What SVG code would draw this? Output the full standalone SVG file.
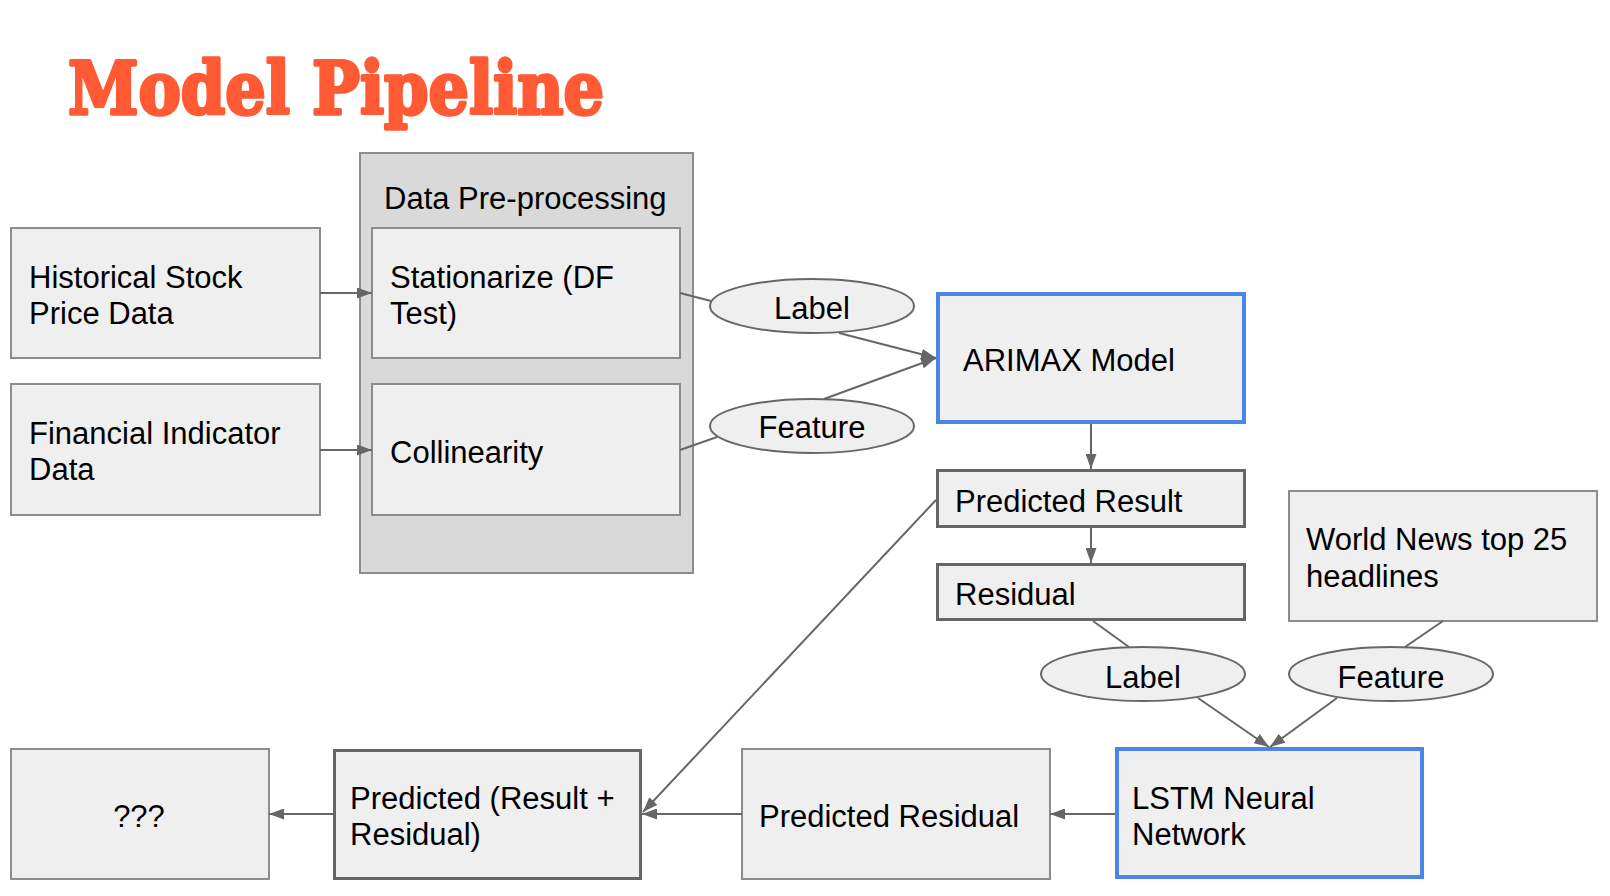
<svg xmlns="http://www.w3.org/2000/svg" width="1610" height="896" viewBox="0 0 1610 896">
<style>
.box{fill:#efefef;stroke:#8c8c8c;stroke-width:2}
.dark{fill:#efefef;stroke:#666;stroke-width:3}
.blue{fill:#efefef;stroke:#4a86e8;stroke-width:4}
.ell{fill:#efefef;stroke:#666;stroke-width:2}
.t{font-family:"Liberation Sans",Arial,sans-serif;font-size:31px;fill:#000}
.c{text-anchor:middle}
.con line{stroke:#666;stroke-width:2;fill:none}
</style>
<defs>
<marker id="ah" markerUnits="userSpaceOnUse" viewBox="0 0 15 11" refX="15" refY="5.5" markerWidth="15" markerHeight="11" orient="auto">
<path d="M0,0 L15,5.5 L0,11 z" fill="#666"/>
</marker>
</defs>
<rect width="1610" height="896" fill="#fff"/>
<text id="title" x="68" y="114" font-family="'DejaVu Serif',serif" font-weight="bold" font-size="72" fill="#ff5a34" stroke="#ff5a34" stroke-width="3.5" stroke-linejoin="round" textLength="536" lengthAdjust="spacingAndGlyphs">Model Pipeline</text>

<g id="preprocessing">
<rect x="360" y="153" width="333" height="420" fill="#d9d9d9" stroke="#8c8c8c" stroke-width="2"/>
<text class="t" x="384" y="209">Data Pre-processing</text>
</g>
<g id="historical"><rect class="box" x="11" y="228" width="309" height="130"/><text class="t" x="29" y="288">Historical Stock</text><text class="t" x="29" y="324">Price Data</text></g>
<g id="financial"><rect class="box" x="11" y="384" width="309" height="131"/><text class="t" x="29" y="444">Financial Indicator</text><text class="t" x="29" y="480">Data</text></g>
<g id="stationarize"><rect class="box" x="372" y="228" width="308" height="130"/><text class="t" x="390" y="288">Stationarize (DF</text><text class="t" x="390" y="324">Test)</text></g>
<g id="collinearity"><rect class="box" x="372" y="384" width="308" height="131"/><text class="t" x="390" y="463">Collinearity</text></g>
<g id="label1"><ellipse class="ell" cx="812" cy="306" rx="102" ry="27"/><text class="t c" x="812" y="319">Label</text></g>
<g id="feature1"><ellipse class="ell" cx="812" cy="426" rx="102" ry="27"/><text class="t c" x="812" y="438">Feature</text></g>
<g id="arimax"><rect class="blue" x="938" y="294" width="306" height="128"/><text class="t" x="963" y="371">ARIMAX Model</text></g>
<g id="predicted-result"><rect class="dark" x="937.5" y="470.5" width="307" height="56"/><text class="t" x="955" y="512">Predicted Result</text></g>
<g id="residual"><rect class="dark" x="937.5" y="564.5" width="307" height="55"/><text class="t" x="955" y="605">Residual</text></g>
<g id="worldnews"><rect class="box" x="1289" y="491" width="308" height="130"/><text class="t" x="1306" y="550">World News top 25</text><text class="t" x="1306" y="587">headlines</text></g>
<g id="label2"><ellipse class="ell" cx="1143" cy="674" rx="102" ry="27"/><text class="t c" x="1143" y="688">Label</text></g>
<g id="feature2"><ellipse class="ell" cx="1391" cy="674" rx="102" ry="27"/><text class="t c" x="1391" y="688">Feature</text></g>
<g id="lstm"><rect class="blue" x="1117" y="749" width="305" height="128"/><text class="t" x="1132" y="809">LSTM Neural</text><text class="t" x="1132" y="845">Network</text></g>
<g id="predicted-residual"><rect class="box" x="742" y="749" width="308" height="130"/><text class="t" x="759" y="827">Predicted Residual</text></g>
<g id="predicted-sum"><rect class="dark" x="334.5" y="750.5" width="306" height="128"/><text class="t" x="350" y="809">Predicted (Result +</text><text class="t" x="350" y="845">Residual)</text></g>
<g id="unknown"><rect class="box" x="11" y="749" width="258" height="130"/><text class="t c" x="139" y="827">???</text></g>

<g id="connectors" class="con">
<line x1="320" y1="293" x2="372" y2="293" marker-end="url(#ah)"/>
<line x1="320" y1="450" x2="372" y2="450" marker-end="url(#ah)"/>
<line x1="680" y1="293" x2="711" y2="301"/>
<line x1="839" y1="333" x2="936" y2="358" marker-end="url(#ah)"/>
<line x1="680" y1="450" x2="717" y2="437"/>
<line x1="824" y1="399" x2="936" y2="358" marker-end="url(#ah)"/>
<line x1="1091" y1="424" x2="1091" y2="469" marker-end="url(#ah)"/>
<line x1="1091" y1="528" x2="1091" y2="563" marker-end="url(#ah)"/>
<line x1="1093" y1="621" x2="1129" y2="647"/>
<line x1="1198" y1="698" x2="1269" y2="747" marker-end="url(#ah)"/>
<line x1="1443" y1="621" x2="1405" y2="647"/>
<line x1="1337" y1="698" x2="1270" y2="747" marker-end="url(#ah)"/>
<line x1="1115" y1="814" x2="1050" y2="814" marker-end="url(#ah)"/>
<line x1="742" y1="814" x2="642" y2="814" marker-end="url(#ah)"/>
<line x1="333" y1="814" x2="269" y2="814" marker-end="url(#ah)"/>
<line x1="936" y1="500" x2="643" y2="812" marker-end="url(#ah)"/>
</g>
</svg>
